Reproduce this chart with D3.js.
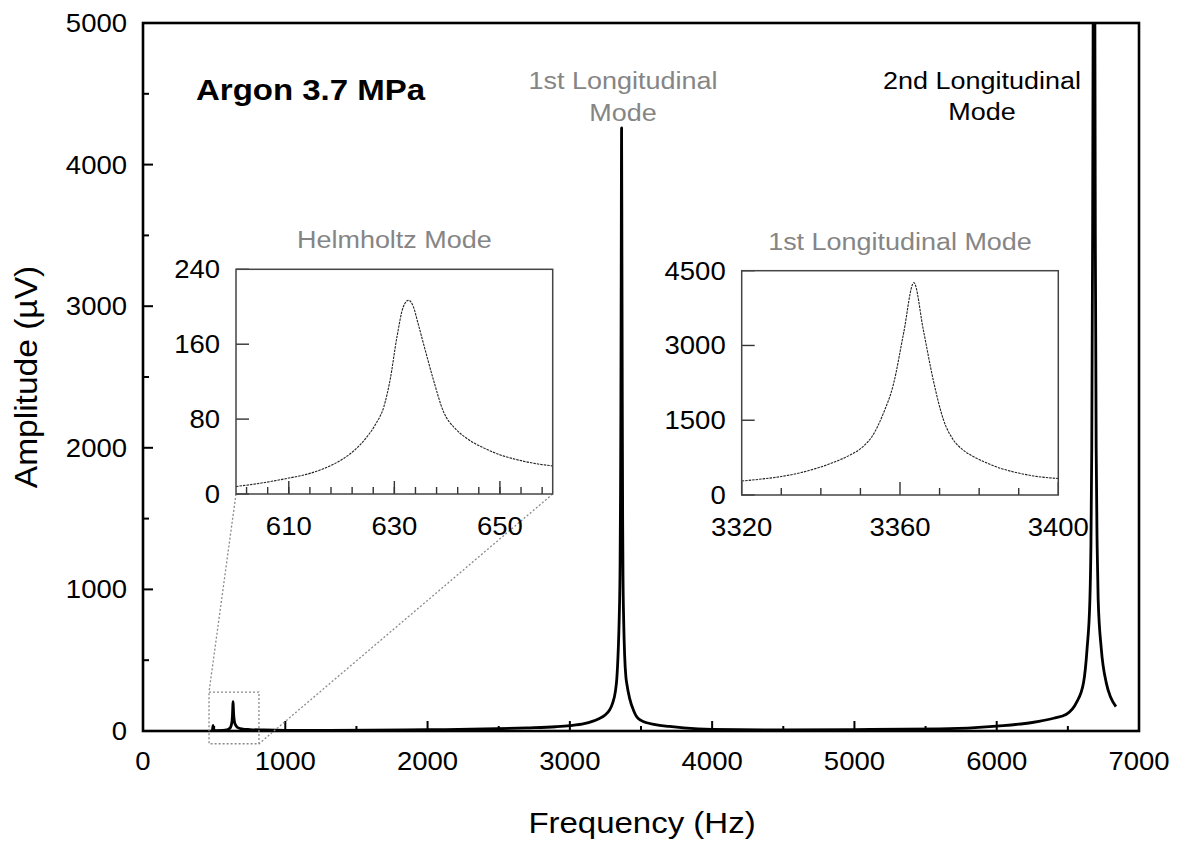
<!DOCTYPE html>
<html>
<head>
<meta charset="utf-8">
<script src="https://cdn.jsdelivr.net/npm/d3@7"></script>
<style>
  html, body { margin: 0; padding: 0; background: #fff; }
  svg { display: block; }
  text { font-family: "Liberation Sans", Arial, sans-serif; }
</style>
</head>
<body>
<script>
// ---------------- DATA ----------------
// Main spectrum: [frequency (Hz), amplitude (µV)]
const mainSpectrum = [
  [488,4],[492,40],[496,4],[520,3],[560,4],[590,8],[605,16],[615,26],[622,48],[626,72],
  [629,115],[631,170],[633,207],[635,165],[637,122],[640,85],[645,55],[655,36],[670,22],[700,14],
  [750,10],[850,7],[1000,5],[1300,5],[1600,6],[2000,9],[2400,14],[2700,22],[2900,30],[3000,38],
  [3100,52],[3200,85],[3250,115],[3280,150],[3300,195],[3320,280],[3330,370],[3340,570],[3347,800],
  [3353,1170],[3356,1640],[3358.5,2240],[3361,3240],[3363.5,4260],[3366,3310],[3368.5,2310],[3371,1500],
  [3373.5,1100],[3378.5,770],[3385,535],[3394,380],[3400,335],[3420,230],[3450,140],[3470,100],[3500,75],
  [3600,45],[3700,32],[3800,22],[4000,12],[4500,8],[5000,10],[5600,15],[6000,35],[6250,60],[6400,90],
  [6490,118],[6560,200],[6610,340],[6635,580],[6655,930],[6662,1300],[6668,2000],[6674,3500],[6680,6000],
  [6684,7500],[6688,6000],[6693,3500],[6699,2000],[6706,1300],[6713,930],[6735,580],[6770,340],[6800,240],
  [6838,172]
];
// Helmholtz inset: [frequency, amplitude]
const helmholtzSpectrum = [
  [600,8],[604,11],[610,17],[614,22],[617,28],[620.4,38],[622.5,47],[624.8,61],[626.5,75],[628,93],
  [629.2,122],[630.5,168],[631.7,200],[632.7,207],[633.6,200],[634.5,182],[635.5,161],[637.4,122],
  [639.3,88],[641.5,70],[643.7,59.5],[647,49],[650.1,41.7],[653,37],[656.4,32.8],[660,30]
];
// 1st longitudinal inset: [frequency, amplitude]
const long1Spectrum = [
  [3320,280],[3325,320],[3329.7,367],[3335,450],[3340.2,568],[3344,680],[3347.4,802],[3350.5,960],
  [3352.9,1170],[3355.8,1639],[3358.4,2240],[3360.9,3243],[3363.5,4260],[3365.9,3310],[3368.4,2307],
  [3371,1505],[3373.5,1103],[3376,900],[3378.6,768],[3382,640],[3385.4,535],[3390,440],[3393.8,381],[3400,330]
];

const mainXDomain = [0, 7000];
const mainYDomain = [0, 5000];
const mainXTicks = [0, 1000, 2000, 3000, 4000, 5000, 6000, 7000];
const mainYTicks = [0, 1000, 2000, 3000, 4000, 5000];
const mainXMinor = [500, 1500, 2500, 3500, 4500, 5500, 6500];
const mainYMinor = [500, 1500, 2500, 3500, 4500];

const helmXDomain = [600, 660];
const helmYDomain = [0, 240];
const helmXTicks = [610, 630, 650];
const helmXMinor = d3.range(602, 660, 4);
const helmYTicks = [0, 80, 160, 240];

const longXDomain = [3320, 3400];
const longYDomain = [0, 4500];
const longXTicks = [3320, 3360, 3400];
const longXMinor = [3330, 3340, 3350, 3370, 3380, 3390];
const longYTicks = [0, 1500, 3000, 4500];

// zoom box on main chart: [f0, f1, a0, a1]
const zoomBox = [464, 815, -90, 275];

const title = "Argon 3.7 MPa";
const xTitle = "Frequency (Hz)";
const yTitle = "Amplitude (\u00B5V)";

// ---------------- LAYOUT ----------------
const W = 1179, H = 846;
const M = { left: 143, right: 1139, top: 23, bottom: 731 };
const SX = 1.1; // horizontal stretch of the original's typeface

const svg = d3.select("body").append("svg").attr("width", W).attr("height", H);

const x = d3.scaleLinear().domain(mainXDomain).range([M.left, M.right]);
const y = d3.scaleLinear().domain(mainYDomain).range([M.bottom, M.top]);

function stext(g, px, py, str, o = {}) {
  const t = g.append("text")
    .attr("transform", `translate(${px},${py})${o.rotate ? ` rotate(${o.rotate})` : ""} scale(${SX},1)`)
    .attr("text-anchor", o.anchor || "middle")
    .attr("font-size", o.size || 25)
    .attr("fill", o.fill || "#000")
    .text(str);
  if (o.weight) t.attr("font-weight", o.weight);
  if (o.dy) t.attr("dy", o.dy);
  return t;
}

// clip
svg.append("defs").append("clipPath").attr("id", "mainclip")
  .append("rect").attr("x", M.left).attr("y", M.top)
  .attr("width", M.right - M.left).attr("height", M.bottom - M.top);

// main curve
const line = d3.line().x(d => x(d[0])).y(d => y(d[1])).curve(d3.curveMonotoneX);
svg.append("path").datum(mainSpectrum)
  .attr("clip-path", "url(#mainclip)")
  .attr("d", line).attr("fill", "none").attr("stroke", "#000")
  .attr("stroke-width", 2.8).attr("stroke-linejoin", "round");

// ticks (inward)
const ax = svg.append("g").attr("stroke", "#000").attr("stroke-width", 2);
mainXTicks.forEach(v => ax.append("line").attr("x1", x(v)).attr("x2", x(v)).attr("y1", M.bottom).attr("y2", M.bottom - 10));
mainXMinor.forEach(v => ax.append("line").attr("x1", x(v)).attr("x2", x(v)).attr("y1", M.bottom).attr("y2", M.bottom - 5));
mainYTicks.forEach(v => ax.append("line").attr("y1", y(v)).attr("y2", y(v)).attr("x1", M.left).attr("x2", M.left + 10));
mainYMinor.forEach(v => ax.append("line").attr("y1", y(v)).attr("y2", y(v)).attr("x1", M.left).attr("x2", M.left + 6));

// frame
svg.append("rect").attr("x", M.left).attr("y", M.top)
  .attr("width", M.right - M.left).attr("height", M.bottom - M.top)
  .attr("fill", "none").attr("stroke", "#000").attr("stroke-width", 2.6);

// tick labels
const lab = svg.append("g");
mainXTicks.forEach(v => stext(lab, x(v), M.bottom + 39, String(v), { size: 25 }));
mainYTicks.forEach(v => stext(lab, M.left - 16, y(v), String(v), { size: 25, anchor: "end", dy: "0.36em" }));

// axis titles
stext(svg, (M.left + M.right) / 2 + 1, 833, xTitle, { size: 30 });
stext(svg, 37, 377, yTitle, { size: 30.5, rotate: -90 });

// chart title & annotations
stext(svg, 196, 100, title, { size: 30, weight: "bold", anchor: "start" });
stext(svg, 623, 89, "1st Longitudinal", { size: 24.5, fill: "#858585" });
stext(svg, 623, 121, "Mode", { size: 24.5, fill: "#858585" });
stext(svg, 982, 89, "2nd Longitudinal", { size: 24.5 });
stext(svg, 982, 120, "Mode", { size: 24.5 });

// ---------------- INSETS ----------------
function inset(cfg) {
  const g = svg.append("g");
  const ix = d3.scaleLinear().domain(cfg.xd).range([cfg.l, cfg.r]);
  const iy = d3.scaleLinear().domain(cfg.yd).range([cfg.b, cfg.t]);
  g.append("rect").attr("x", cfg.l).attr("y", cfg.t).attr("width", cfg.r - cfg.l).attr("height", cfg.b - cfg.t)
    .attr("fill", "#fff");
  const il = d3.line().x(d => ix(d[0])).y(d => iy(d[1])).curve(d3.curveMonotoneX);
  g.append("path").datum(cfg.data).attr("d", il).attr("fill", "none")
    .attr("stroke", "#222").attr("stroke-width", 1.1).attr("stroke-dasharray", "2.5,1");
  const tk = g.append("g").attr("stroke", "#333").attr("stroke-width", 1.4);
  cfg.xt.forEach(v => tk.append("line").attr("x1", ix(v)).attr("x2", ix(v)).attr("y1", cfg.b).attr("y2", cfg.b - 13));
  cfg.xm.forEach(v => tk.append("line").attr("x1", ix(v)).attr("x2", ix(v)).attr("y1", cfg.b).attr("y2", cfg.b - 7));
  cfg.yt.forEach(v => tk.append("line").attr("y1", iy(v)).attr("y2", iy(v)).attr("x1", cfg.l).attr("x2", cfg.l + 13));
  g.append("rect").attr("x", cfg.l).attr("y", cfg.t).attr("width", cfg.r - cfg.l).attr("height", cfg.b - cfg.t)
    .attr("fill", "none").attr("stroke", "#444").attr("stroke-width", 1.5);
  cfg.xt.forEach(v => stext(g, ix(v), cfg.b + 41, String(v), { size: 25 }));
  cfg.yt.forEach(v => stext(g, cfg.l - 16, iy(v), String(v), { size: 25, anchor: "end", dy: "0.36em" }));
  stext(g, (cfg.l + cfg.r) / 2, cfg.t - 21, cfg.title, { size: 24.5, fill: "#858585" });
  return { ix, iy };
}

const helm = { l: 236, r: 552.7, t: 269.3, b: 494 };
const lng = { l: 741.7, r: 1058.3, t: 270.7, b: 495 };

// zoom box + connectors (drawn before insets so inset frames sit on top)
const bx0 = x(zoomBox[0]), bx1 = x(zoomBox[1]), by0 = y(zoomBox[3]), by1 = y(zoomBox[2]);
const dot = svg.append("g").attr("stroke", "#8a8a8a").attr("stroke-width", 1.3)
  .attr("stroke-dasharray", "2,2").attr("fill", "none");
dot.append("rect").attr("x", bx0).attr("y", by0).attr("width", bx1 - bx0).attr("height", by1 - by0);
dot.append("line").attr("x1", helm.l).attr("y1", helm.b).attr("x2", bx0).attr("y2", by0);
dot.append("line").attr("x1", helm.r).attr("y1", helm.b).attr("x2", bx1).attr("y2", by1);

inset(Object.assign({}, helm, {
  xd: helmXDomain, yd: helmYDomain, xt: helmXTicks, xm: helmXMinor, yt: helmYTicks,
  data: helmholtzSpectrum, title: "Helmholtz Mode"
}));
inset(Object.assign({}, lng, {
  xd: longXDomain, yd: longYDomain, xt: longXTicks, xm: longXMinor, yt: longYTicks,
  data: long1Spectrum, title: "1st Longitudinal Mode"
}));
</script>
</body>
</html>
